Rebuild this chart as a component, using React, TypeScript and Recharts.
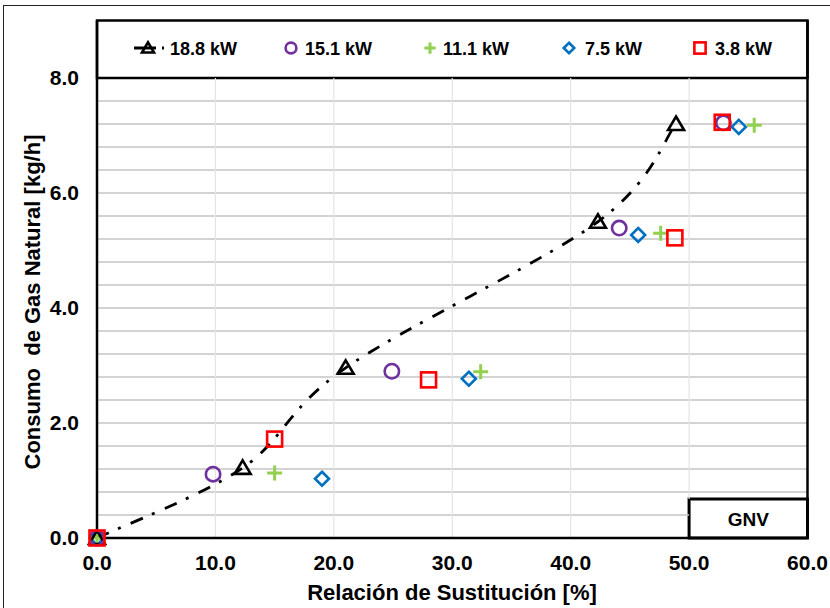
import React from 'react';
import {
  ComposedChart,
  Line,
  Scatter,
  XAxis,
  YAxis,
  ReferenceLine,
  ReferenceArea,
} from 'recharts';

// Relación de sustitución [%] and consumo de gas natural [kg/h] per engine load
const seriesNames = ['18.8 kW', '15.1 kW', '11.1 kW', '7.5 kW', '3.8 kW'];

const sust188 = [0, 12.3, 21.0, 42.3, 48.9];
const gas188 = [0, 1.22, 2.96, 5.5, 7.2];

const sust151 = [0, 9.8, 24.9, 44.1, 52.9];
const gas151 = [0, 1.11, 2.9, 5.39, 7.22];

const sust111 = [0, 15.0, 32.4, 47.6, 55.5];
const gas111 = [0, 1.13, 2.89, 5.3, 7.18];

const sust75 = [0, 19.0, 31.4, 45.7, 54.2];
const gas75 = [0, 1.03, 2.77, 5.27, 7.15];

const sust38 = [0, 15.0, 28.0, 48.8, 52.8];
const gas38 = [0, 1.72, 2.75, 5.22, 7.23];

const xTicks = [0, 10, 20, 30, 40, 50, 60];
const yTicks = [0, 2, 4, 6, 8];
const yGrid = [0.4, 0.8, 1.2, 1.6, 2.0, 2.4, 2.8, 3.2, 3.6, 4.0, 4.4, 4.8, 5.2, 5.6, 6.0, 6.4, 6.8, 7.2, 7.6];
const xGrid = [10, 20, 30, 40, 50];

// corner label box in the lower right
const gnvBox = { x1: 50, x2: 60, y1: 0, y2: 0.68 };

const toPoints = (xs: number[], ys: number[]) => xs.map((x, i) => ({ x, y: ys[i] }));

const d188 = toPoints(sust188, gas188);
const d151 = toPoints(sust151, gas151);
const d111 = toPoints(sust111, gas111);
const d75 = toPoints(sust75, gas75);
const d38 = toPoints(sust38, gas38);

const BLACK = '#000000';
const PURPLE = '#7030A0';
const GREEN = '#92D050';
const BLUE = '#0070C0';
const RED = '#FF0000';

const FONT = '"Liberation Sans", Arial, sans-serif';

// Smoothed trend curve: cubic Bezier segments whose control points follow the
// neighbouring points (Catmull-Rom style, 1/6 factor).
function smoothCurve(context: any) {
  let pts: [number, number][] = [];
  return {
    areaStart() {},
    areaEnd() {},
    lineStart() {
      pts = [];
    },
    point(x: number, y: number) {
      pts.push([+x, +y]);
    },
    lineEnd() {
      if (!pts.length) return;
      context.moveTo(pts[0][0], pts[0][1]);
      for (let i = 0; i < pts.length - 1; i++) {
        const p0 = pts[Math.max(i - 1, 0)];
        const p1 = pts[i];
        const p2 = pts[i + 1];
        const p3 = pts[Math.min(i + 2, pts.length - 1)];
        context.bezierCurveTo(
          p1[0] + (p2[0] - p0[0]) / 6,
          p1[1] + (p2[1] - p0[1]) / 6,
          p2[0] - (p3[0] - p1[0]) / 6,
          p2[1] - (p3[1] - p1[1]) / 6,
          p2[0],
          p2[1]
        );
      }
    },
  };
}

// marker glyphs, scalable so the legend can reuse them
const triangle = (cx: number, cy: number, s = 1) => (
  <path
    d={`M${cx},${cy - 7.5 * s} L${cx + 8 * s},${cy + 6 * s} L${cx - 8 * s},${cy + 6 * s} Z`}
    fill="none"
    stroke={BLACK}
    strokeWidth={2.6}
    strokeLinejoin="miter"
  />
);
const circle = (cx: number, cy: number, s = 1) => (
  <circle cx={cx} cy={cy} r={7.2 * s} fill="none" stroke={PURPLE} strokeWidth={2.6} />
);
const plus = (cx: number, cy: number, s = 1) => (
  <path
    d={`M${cx - 7.5 * s},${cy} H${cx + 7.5 * s} M${cx},${cy - 7.5 * s} V${cy + 7.5 * s}`}
    stroke={GREEN}
    strokeWidth={3}
    fill="none"
  />
);
const diamond = (cx: number, cy: number, s = 1) => (
  <path
    d={`M${cx},${cy - 7 * s} L${cx + 7 * s},${cy} L${cx},${cy + 7 * s} L${cx - 7 * s},${cy} Z`}
    fill="none"
    stroke={BLUE}
    strokeWidth={2.6}
  />
);
const square = (cx: number, cy: number, s = 1) => (
  <rect
    x={cx - 7.5 * s}
    y={cy - 7.5 * s}
    width={15 * s}
    height={15 * s}
    fill="none"
    stroke={RED}
    strokeWidth={2.6}
  />
);

const glyphs = [triangle, circle, plus, diamond, square];

const shapeOf = (g: (cx: number, cy: number, s?: number) => React.ReactElement) => (props: any) =>
  g(props.cx, props.cy);

// legend item placement along the top band
const legendIcon = [148, 291, 430, 569, 700];
const legendText = [170, 305, 443, 585, 715];

const fmt = (v: number) => v.toFixed(1);

export default function App() {
  const tickStyle = { fill: '#000', fontSize: 21, fontWeight: 700, fontFamily: FONT };
  return (
    <div style={{ position: 'absolute', left: 0, top: 0, width: 830, height: 608, background: '#fff' }}>
      <ComposedChart
        width={830}
        height={608}
        margin={{ top: 20.5, right: 22.5, left: 37, bottom: 40 }}
        style={{ fontFamily: FONT }}
      >
        <XAxis
          type="number"
          dataKey="x"
          domain={[0, 60]}
          ticks={xTicks}
          tickFormatter={fmt}
          axisLine={{ stroke: BLACK, strokeWidth: 2.5 }}
          tickLine={false}
          tick={tickStyle}
          tickMargin={11}
          height={30}
        />
        <YAxis
          type="number"
          dataKey="y"
          domain={[0, 9]}
          ticks={yTicks}
          tickFormatter={fmt}
          axisLine={{ stroke: BLACK, strokeWidth: 2.5 }}
          tickLine={false}
          tick={tickStyle}
          tickMargin={12}
          width={60}
        />
        {yGrid.map((v) => (
          <ReferenceLine
            key={'h' + v}
            segment={[
              { x: 0, y: v },
              { x: v < gnvBox.y2 ? gnvBox.x1 : 60, y: v },
            ]}
            stroke="#c4c4c4"
            strokeWidth={1.5}
          />
        ))}
        {xGrid.map((v) => (
          <ReferenceLine
            key={'v' + v}
            segment={[
              { x: v, y: v >= gnvBox.x1 ? gnvBox.y2 : 0 },
              { x: v, y: 8 },
            ]}
            stroke="#e4e4e4"
            strokeWidth={1.2}
          />
        ))}
        <ReferenceArea x1={0} x2={60} y1={8} y2={9} fill="#fff" fillOpacity={1} stroke={BLACK} strokeWidth={2.5} />
        <ReferenceLine x={60} stroke={BLACK} strokeWidth={2.5} />
        <ReferenceArea
          x1={gnvBox.x1}
          x2={gnvBox.x2}
          y1={gnvBox.y1}
          y2={gnvBox.y2}
          fill="#fff"
          fillOpacity={1}
          stroke={BLACK}
          strokeWidth={3}
          label={{ value: 'GNV', fill: '#000', fontSize: 19, fontWeight: 700, fontFamily: FONT, dy: 1 }}
        />
        <Line
          data={d188}
          dataKey="y"
          type={smoothCurve as any}
          stroke={BLACK}
          strokeWidth={2.8}
          strokeDasharray="13 10 3 11"
          dot={false}
          activeDot={false}
          isAnimationActive={false}
        />
        <Scatter data={d75} dataKey="y" shape={shapeOf(diamond)} isAnimationActive={false} />
        <Scatter data={d111} dataKey="y" shape={shapeOf(plus)} isAnimationActive={false} />
        <Scatter data={d188} dataKey="y" shape={shapeOf(triangle)} isAnimationActive={false} />
        <Scatter data={d151} dataKey="y" shape={shapeOf(circle)} isAnimationActive={false} />
        <Scatter data={d38} dataKey="y" shape={shapeOf(square)} isAnimationActive={false} />
      </ComposedChart>

      <svg
        width={830}
        height={608}
        style={{ position: 'absolute', left: 0, top: 0, pointerEvents: 'none' }}
      >
        <line x1={3} y1={5.5} x2={830} y2={5.5} stroke="#222" strokeWidth={1} />
        <line x1={3.5} y1={5} x2={3.5} y2={608} stroke="#222" strokeWidth={1} />
        {seriesNames.map((name, i) => (
          <g key={name}>
            {i === 0 && (
              <path d="M134,48 H156 M162,48 H164" stroke={BLACK} strokeWidth={2.8} />
            )}
            {glyphs[i](legendIcon[i], 48, 0.75)}
            <text
              x={legendText[i]}
              y={54.5}
              fontFamily={FONT}
              fontSize={18}
              fontWeight={700}
              fill="#000"
            >
              {name}
            </text>
          </g>
        ))}
        <text
          x={452}
          y={600}
          textAnchor="middle"
          fontFamily={FONT}
          fontSize={22}
          fontWeight={700}
          fill="#000"
        >
          Relación de Sustitución [%]
        </text>
        <text
          transform="translate(40,302) rotate(-90)"
          textAnchor="middle"
          fontFamily={FONT}
          fontSize={22}
          fontWeight={700}
          fill="#000"
          style={{ whiteSpace: 'pre' }}
        >
          {'Consumo  de Gas Natural [kg/h]'}
        </text>
      </svg>
    </div>
  );
}
